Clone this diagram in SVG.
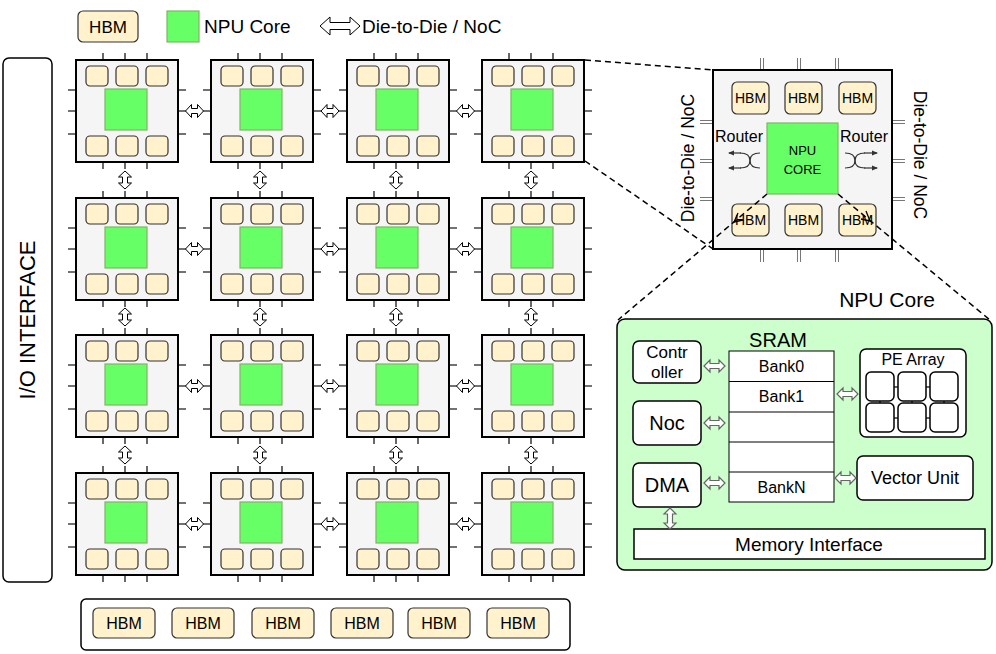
<svg xmlns="http://www.w3.org/2000/svg" xmlns:xlink="http://www.w3.org/1999/xlink" width="996" height="654" viewBox="0 0 996 654">
<style>
text{font-family:"Liberation Sans",Arial,sans-serif;fill:#000}
.hbm{fill:#fff2cc;stroke:#333;stroke-width:1.2}
.core{fill:#66ff66;stroke:#82b366;stroke-width:1.2}
.tile{fill:#f5f5f5;stroke:#000;stroke-width:2}
.pin{stroke:#444;stroke-width:1.6;fill:none}
.dpin{stroke:#777;stroke-width:1;fill:none}
.arr{fill:#fff;stroke:#000;stroke-width:1}
.garr{fill:#fff;stroke:#666;stroke-width:1.2}
.box{fill:#fff;stroke:#000;stroke-width:1.5}
.dash{stroke:#000;stroke-width:1.5;stroke-dasharray:6 4;fill:none}
.rt{stroke:#333;stroke-width:1.2;fill:none}
</style>
<defs>
<path id="dah" d="M-9,0 L-3,-6.5 L-3,-2.5 L3,-2.5 L3,-6.5 L9,0 L3,6.5 L3,2.5 L-3,2.5 L-3,6.5 Z"/>
<path id="gah" d="M-10.5,0 L-4.5,-6 L-4.5,-2.5 L4.5,-2.5 L4.5,-6 L10.5,0 L4.5,6 L4.5,2.5 L-4.5,2.5 L-4.5,6 Z"/>
<g id="tileT">
<path class="pin" d="M27,-7V0M49,-7V0M71,-7V0M27,102V109M49,102V109M71,102V109M-8,30H0M-8,51H0M-8,74H0M102,30H110M102,51H110M102,74H110"/>
<rect class="tile" x="0" y="0" width="102" height="102"/>
<rect class="hbm" x="10" y="6" width="22" height="20" rx="4"/>
<rect class="hbm" x="40" y="6" width="22" height="20" rx="4"/>
<rect class="hbm" x="70" y="6" width="22" height="20" rx="4"/>
<rect class="hbm" x="10" y="76" width="22" height="20" rx="4"/>
<rect class="hbm" x="40" y="76" width="22" height="20" rx="4"/>
<rect class="hbm" x="70" y="76" width="22" height="20" rx="4"/>
<rect class="core" x="29" y="29" width="42" height="41"/>
</g>
<marker id="ah" viewBox="0 0 6 6" refX="5" refY="3" markerWidth="5" markerHeight="5" orient="auto"><path d="M0,0.5 L6,3 L0,5.5 Z" fill="#333"/></marker>
</defs>

<g id="legend">
<rect class="hbm" x="78" y="11" width="60" height="31" rx="5"/>
<text x="108" y="32.5" font-size="17" text-anchor="middle">HBM</text>
<rect class="core" x="167" y="11" width="32" height="31"/>
<text x="204" y="33" font-size="19">NPU Core</text>
<path class="arr" d="M320,26 L330,17 L330,22.5 L350,22.5 L350,17 L360,26 L350,35 L350,29.5 L330,29.5 L330,35 Z"/>
<text x="362" y="33" font-size="19">Die-to-Die / NoC</text>
</g>

<g id="io-interface">
<rect x="3" y="58" width="49" height="524" rx="6" fill="#fff" stroke="#000" stroke-width="1.5"/>
<text transform="translate(35,320) rotate(-90)" font-size="22" text-anchor="middle">I/O INTERFACE</text>
</g>

<g id="tile-r1c1"><use href="#tileT" x="76" y="60"/></g>
<g id="tile-r1c2"><use href="#tileT" x="211" y="60"/></g>
<g id="tile-r1c3"><use href="#tileT" x="347" y="60"/></g>
<g id="tile-r1c4"><use href="#tileT" x="482" y="60"/></g>
<g id="tile-r2c1"><use href="#tileT" x="76" y="198"/></g>
<g id="tile-r2c2"><use href="#tileT" x="211" y="198"/></g>
<g id="tile-r2c3"><use href="#tileT" x="347" y="198"/></g>
<g id="tile-r2c4"><use href="#tileT" x="482" y="198"/></g>
<g id="tile-r3c1"><use href="#tileT" x="76" y="335"/></g>
<g id="tile-r3c2"><use href="#tileT" x="211" y="335"/></g>
<g id="tile-r3c3"><use href="#tileT" x="347" y="335"/></g>
<g id="tile-r3c4"><use href="#tileT" x="482" y="335"/></g>
<g id="tile-r4c1"><use href="#tileT" x="76" y="473"/></g>
<g id="tile-r4c2"><use href="#tileT" x="211" y="473"/></g>
<g id="tile-r4c3"><use href="#tileT" x="347" y="473"/></g>
<g id="tile-r4c4"><use href="#tileT" x="482" y="473"/></g>

<g id="hbm-bank">
<rect x="81" y="599" width="489" height="51" rx="5" fill="#fff" stroke="#000" stroke-width="1.5"/>
<rect class="hbm" x="93" y="608" width="62" height="30" rx="5"/>
<rect class="hbm" x="172" y="608" width="62" height="30" rx="5"/>
<rect class="hbm" x="252" y="608" width="62" height="30" rx="5"/>
<rect class="hbm" x="331" y="608" width="62" height="30" rx="5"/>
<rect class="hbm" x="408" y="608" width="62" height="30" rx="5"/>
<rect class="hbm" x="487" y="608" width="62" height="30" rx="5"/>
<g font-size="16" text-anchor="middle">
<text x="124" y="629">HBM</text><text x="203" y="629">HBM</text><text x="283" y="629">HBM</text>
<text x="362" y="629">HBM</text><text x="439" y="629">HBM</text><text x="518" y="629">HBM</text>
</g>
</g>

<g id="chip-detail">
<path class="dpin" d="M760.5,58V70M763.5,58V70M797.5,58V70M800.5,58V70M835.5,58V70M838.5,58V70M760.5,249V262M763.5,249V262M797.5,249V262M800.5,249V262M835.5,249V262M838.5,249V262M700,120.5H713M700,123.5H713M700,159.5H713M700,162.5H713M700,197.5H713M700,200.5H713M892,120.5H905M892,123.5H905M892,159.5H905M892,162.5H905M892,197.5H905M892,200.5H905"/>
<rect class="tile" x="713" y="70" width="179" height="179"/>
<rect class="hbm" x="732" y="82" width="37" height="32" rx="5"/>
<rect class="hbm" x="785" y="82" width="37" height="32" rx="5"/>
<rect class="hbm" x="839" y="82" width="37" height="32" rx="5"/>
<rect class="hbm" x="732" y="204" width="37" height="32" rx="5"/>
<rect class="hbm" x="785" y="204" width="37" height="32" rx="5"/>
<rect class="hbm" x="839" y="204" width="37" height="32" rx="5"/>
<g font-size="14" text-anchor="middle">
<text x="750.5" y="103">HBM</text><text x="803.5" y="103">HBM</text><text x="857.5" y="103">HBM</text>
<text x="750.5" y="225">HBM</text><text x="803.5" y="225">HBM</text><text x="857.5" y="225">HBM</text>
</g>
<rect class="core" x="767" y="123" width="71" height="71"/>
<text x="802.5" y="155" font-size="13" text-anchor="middle">NPU</text>
<text x="802.5" y="174" font-size="13" text-anchor="middle">CORE</text>
<text x="739" y="142" font-size="16" text-anchor="middle">Router</text>
<text x="864" y="142" font-size="16" text-anchor="middle">Router</text>
<path class="rt" d="M741,153 H729" marker-end="url(#ah)"/>
<path class="rt" d="M741,168 H729" marker-end="url(#ah)"/>
<path class="rt" d="M740,153 C747,153 750,156 750,160.5 C750,165 747,168 740,168"/>
<path class="rt" d="M760,153 C753,153 750,156 750,160.5 C750,165 753,168 760,168"/>
<path class="rt" d="M845,153 C852,153 855,156 855,160.5 C855,165 852,168 845,168"/>
<path class="rt" d="M865,153 C858,153 855,156 855,160.5 C855,165 858,168 865,168"/>
<path class="rt" d="M864,153 H877" marker-end="url(#ah)"/>
<path class="rt" d="M864,168 H877" marker-end="url(#ah)"/>
<text transform="translate(694,158) rotate(-90)" font-size="17.5" text-anchor="middle">Die-to-Die / NoC</text>
<text transform="translate(914,155) rotate(90)" font-size="17.5" text-anchor="middle">Die-to-Die / NoC</text>
</g>

<g id="npu-core">
<text x="887" y="307" font-size="21" text-anchor="middle">NPU Core</text>
<rect x="617" y="319" width="375" height="251" rx="8" fill="#ccffcc" stroke="#000" stroke-width="1.5"/>
<text x="778" y="347" font-size="20" text-anchor="middle">SRAM</text>
<g id="sram">
<rect x="729" y="351" width="105" height="151" fill="#fff" stroke="#000" stroke-width="1"/>
<path d="M729,381.5H834M729,412H834M729,442H834M729,472H834" stroke="#000" stroke-width="1"/>
<text x="781.5" y="372" font-size="16" text-anchor="middle">Bank0</text>
<text x="781.5" y="402" font-size="16" text-anchor="middle">Bank1</text>
<text x="781.5" y="493" font-size="16" text-anchor="middle">BankN</text>
</g>
<g id="controller">
<rect class="box" x="633" y="341" width="68" height="42" rx="6"/>
<text x="667" y="358" font-size="17" text-anchor="middle">Contr</text>
<text x="667" y="378" font-size="17" text-anchor="middle">oller</text>
</g>
<g id="noc">
<rect class="box" x="633" y="401" width="68" height="44" rx="6"/>
<text x="667" y="430" font-size="20" text-anchor="middle">Noc</text>
</g>
<g id="dma">
<rect class="box" x="633" y="463" width="68" height="44" rx="6"/>
<text x="667" y="492" font-size="20" text-anchor="middle">DMA</text>
</g>
<g id="pe-array">
<rect class="box" x="860" y="349" width="106" height="88" rx="6"/>
<text x="913" y="365" font-size="16" text-anchor="middle">PE Array</text>
<path d="M894,387H898M926,387H930M894,418H898M926,418H930M880,401V403M912,401V403M944,401V403" stroke="#333" stroke-width="1.5"/>
<rect class="box" x="866" y="372" width="28" height="29" rx="5" stroke-width="1"/>
<rect class="box" x="898" y="372" width="28" height="29" rx="5" stroke-width="1"/>
<rect class="box" x="930" y="372" width="28" height="29" rx="5" stroke-width="1"/>
<rect class="box" x="866" y="403" width="28" height="29" rx="5" stroke-width="1"/>
<rect class="box" x="898" y="403" width="28" height="29" rx="5" stroke-width="1"/>
<rect class="box" x="930" y="403" width="28" height="29" rx="5" stroke-width="1"/>
</g>
<g id="vector-unit">
<rect class="box" x="857" y="456" width="116" height="44" rx="6"/>
<text x="915" y="484" font-size="18" text-anchor="middle">Vector Unit</text>
</g>
<g id="memory-interface">
<rect x="634" y="529" width="351" height="30" fill="#fff" stroke="#000" stroke-width="1.5"/>
<text x="809" y="551" font-size="19" text-anchor="middle">Memory Interface</text>
</g>
</g>

<g id="connectors">
<g class="arr">
<use href="#dah" x="194.5" y="111"/><use href="#dah" x="330" y="111"/><use href="#dah" x="465.5" y="111"/>
<use href="#dah" x="194.5" y="249"/><use href="#dah" x="330" y="249"/><use href="#dah" x="465.5" y="249"/>
<use href="#dah" x="194.5" y="386"/><use href="#dah" x="330" y="386"/><use href="#dah" x="465.5" y="386"/>
<use href="#dah" x="194.5" y="524"/><use href="#dah" x="330" y="524"/><use href="#dah" x="465.5" y="524"/>
<use href="#dah" transform="translate(125,180) rotate(90)"/><use href="#dah" transform="translate(260,180) rotate(90)"/>
<use href="#dah" transform="translate(396,180) rotate(90)"/><use href="#dah" transform="translate(531,180) rotate(90)"/>
<use href="#dah" transform="translate(125,317) rotate(90)"/><use href="#dah" transform="translate(260,317) rotate(90)"/>
<use href="#dah" transform="translate(396,317) rotate(90)"/><use href="#dah" transform="translate(531,317) rotate(90)"/>
<use href="#dah" transform="translate(125,455) rotate(90)"/><use href="#dah" transform="translate(260,455) rotate(90)"/>
<use href="#dah" transform="translate(396,455) rotate(90)"/><use href="#dah" transform="translate(531,455) rotate(90)"/>
</g>
<g class="garr">
<use href="#gah" x="714.5" y="366"/>
<use href="#gah" x="714.5" y="423"/>
<use href="#gah" x="714.5" y="483"/>
<use href="#gah" x="847.5" y="394"/>
<use href="#gah" x="845.5" y="478"/>
<use href="#gah" transform="translate(670,518.5) rotate(90)"/>
</g>
<path class="dash" d="M585,60 L713,70"/>
<path class="dash" d="M585,161 L713,249"/>
<path class="dash" d="M767,194 L618,320"/>
<path class="dash" d="M838,194 L990,320"/>
<path d="M738,213 L734,222 L743,220" fill="none" stroke="#000" stroke-width="1.3"/>
<path d="M866,211 L870,221 L861,219" fill="none" stroke="#000" stroke-width="1.3"/>
</g>
</svg>
